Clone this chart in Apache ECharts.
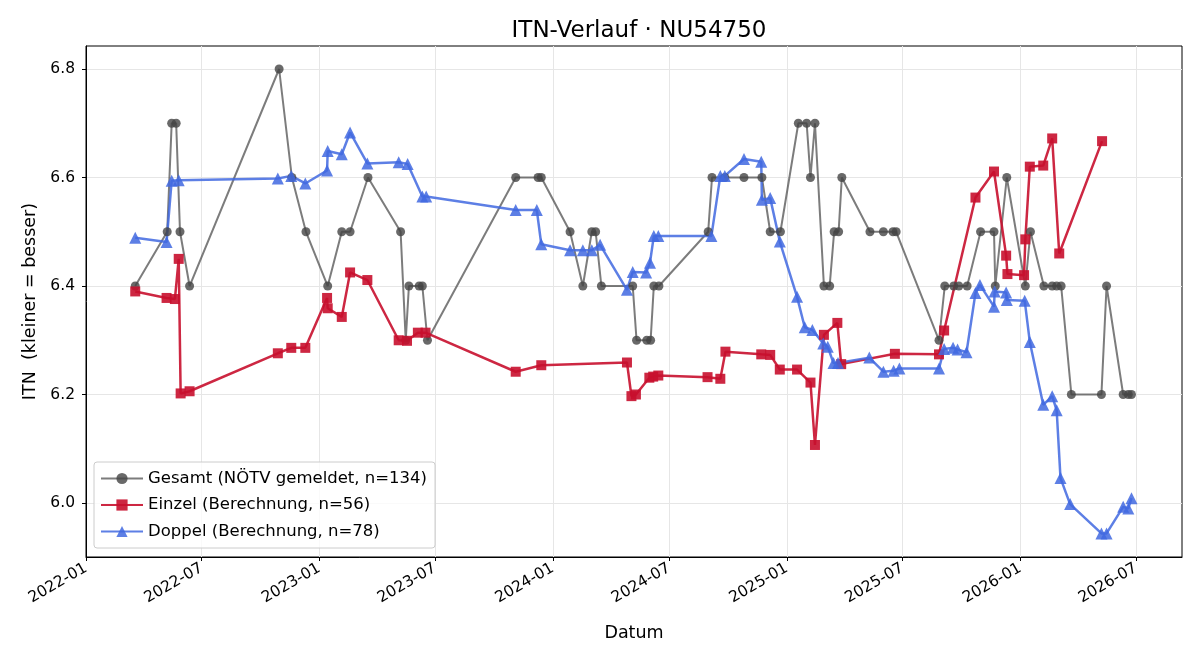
<!DOCTYPE html>
<html>
<head>
<meta charset="utf-8">
<title>ITN-Verlauf</title>
<script src="https://cdn.jsdelivr.net/npm/echarts@6/dist/echarts.min.js"></script>
<style>
  html, body { margin: 0; padding: 0; background: #fff; }
  #itn_chart { width: 1200px; height: 660px; }
</style>
</head>
<body>
<div id="itn_chart"></div>
<script>
// Gesamt (NÖTV gemeldet)
var gesamtDates = ['2022-03-19', '2022-05-08', '2022-05-15', '2022-05-22', '2022-05-28', '2022-06-12',
    '2022-10-30', '2022-11-19', '2022-12-11', '2023-01-14', '2023-02-05', '2023-02-18', '2023-03-18',
    '2023-05-08', '2023-05-16', '2023-05-21', '2023-06-06', '2023-06-11', '2023-06-19', '2023-11-04',
    '2023-12-09', '2023-12-14', '2024-01-28', '2024-02-17', '2024-03-02', '2024-03-08', '2024-03-17',
    '2024-05-05', '2024-05-11', '2024-05-27', '2024-06-02', '2024-06-07', '2024-06-15', '2024-08-31',
    '2024-09-06', '2024-09-26', '2024-10-26', '2024-11-23', '2024-12-06', '2024-12-22', '2025-01-19',
    '2025-02-01', '2025-02-07', '2025-02-14', '2025-02-28', '2025-03-09', '2025-03-16', '2025-03-23',
    '2025-03-28', '2025-05-11', '2025-06-01', '2025-06-16', '2025-06-21', '2025-08-27', '2025-09-05',
    '2025-09-19', '2025-09-27', '2025-10-10', '2025-10-31', '2025-11-21', '2025-11-23', '2025-12-11',
    '2026-01-09', '2026-01-17', '2026-02-07', '2026-02-20', '2026-02-27', '2026-03-06', '2026-03-22',
    '2026-05-08', '2026-05-16', '2026-06-11', '2026-06-19', '2026-06-24'];
var gesamtValues = [6.4, 6.5, 6.7, 6.7, 6.5, 6.4,
    6.8, 6.6, 6.5, 6.4, 6.5, 6.5, 6.6,
    6.5, 6.3, 6.4, 6.4, 6.4, 6.3, 6.6,
    6.6, 6.6, 6.5, 6.4, 6.5, 6.5, 6.4,
    6.4, 6.3, 6.3, 6.3, 6.4, 6.4, 6.5,
    6.6, 6.6, 6.6, 6.6, 6.5, 6.5, 6.7,
    6.7, 6.6, 6.7, 6.4, 6.4, 6.5, 6.5,
    6.6, 6.5, 6.5, 6.5, 6.5, 6.3, 6.4,
    6.4, 6.4, 6.4, 6.5, 6.5, 6.4, 6.6,
    6.4, 6.5, 6.4, 6.4, 6.4, 6.4, 6.2,
    6.2, 6.4, 6.2, 6.2, 6.2];

// Einzel (Berechnung)
var einzelDates = ['2022-03-19', '2022-05-07', '2022-05-20', '2022-05-26', '2022-05-29', '2022-06-12',
    '2022-10-28', '2022-11-18', '2022-12-10', '2023-01-13', '2023-01-14', '2023-02-05', '2023-02-18',
    '2023-03-17', '2023-05-05', '2023-05-18', '2023-06-04', '2023-06-16', '2023-11-04', '2023-12-14',
    '2024-04-26', '2024-05-03', '2024-05-10', '2024-05-31', '2024-06-06', '2024-06-14', '2024-08-30',
    '2024-09-19', '2024-09-27', '2024-11-22', '2024-12-06', '2024-12-21', '2025-01-17', '2025-02-07',
    '2025-02-14', '2025-02-28', '2025-03-21', '2025-03-27', '2025-06-19', '2025-08-27', '2025-09-04',
    '2025-10-23', '2025-11-21', '2025-12-10', '2025-12-12', '2026-01-07', '2026-01-09', '2026-01-16',
    '2026-02-06', '2026-02-20', '2026-03-03', '2026-05-09'];
var einzelValues = [6.390, 6.378, 6.376, 6.450, 6.202, 6.206,
    6.276, 6.286, 6.286, 6.378, 6.359, 6.343, 6.425,
    6.411, 6.300, 6.299, 6.314, 6.314, 6.242, 6.254,
    6.259, 6.197, 6.200, 6.231, 6.233, 6.235, 6.232,
    6.229, 6.279, 6.274, 6.273, 6.246, 6.246, 6.222,
    6.107, 6.310, 6.332, 6.256, 6.275, 6.274, 6.318,
    6.563, 6.611, 6.456, 6.422, 6.420, 6.486, 6.620,
    6.622, 6.672, 6.460, 6.667];

// Doppel (Berechnung)
var doppelDates = ['2022-03-19', '2022-05-07', '2022-05-15', '2022-05-26', '2022-10-28', '2022-11-18',
    '2022-12-10', '2023-01-13', '2023-01-14', '2023-02-05', '2023-02-18', '2023-03-17', '2023-05-05',
    '2023-05-19', '2023-06-11', '2023-06-17', '2023-11-04', '2023-12-07', '2023-12-14', '2024-01-28',
    '2024-02-17', '2024-03-02', '2024-03-15', '2024-04-26', '2024-05-05', '2024-05-26', '2024-06-01',
    '2024-06-07', '2024-06-14', '2024-09-05', '2024-09-19', '2024-09-26', '2024-10-26', '2024-11-22',
    '2024-11-23', '2024-12-06', '2024-12-21', '2025-01-17', '2025-01-29', '2025-02-10', '2025-02-27',
    '2025-03-06', '2025-03-15', '2025-03-22', '2025-05-10', '2025-06-01', '2025-06-17', '2025-06-26',
    '2025-08-27', '2025-09-04', '2025-09-18', '2025-09-25', '2025-10-09', '2025-10-23', '2025-10-30',
    '2025-11-21', '2025-11-22', '2025-12-10', '2025-12-11', '2026-01-08', '2026-01-16', '2026-02-06',
    '2026-02-20', '2026-02-27', '2026-03-05', '2026-03-20', '2026-05-08', '2026-05-16', '2026-06-11',
    '2026-06-19', '2026-06-24'];
var doppelValues = [6.489, 6.481, 6.594, 6.595, 6.598, 6.603,
    6.589, 6.613, 6.649, 6.643, 6.683, 6.626, 6.628,
    6.625, 6.565, 6.565, 6.540, 6.540, 6.477, 6.466,
    6.466, 6.466, 6.476, 6.393, 6.426, 6.425, 6.443,
    6.492, 6.492, 6.492, 6.603, 6.603, 6.634, 6.629,
    6.559, 6.562, 6.482, 6.380, 6.324, 6.319, 6.294,
    6.288, 6.258, 6.258, 6.268, 6.242, 6.244, 6.248,
    6.248, 6.284, 6.286, 6.283, 6.278, 6.387, 6.402,
    6.362, 6.390, 6.388, 6.374, 6.373, 6.297, 6.181,
    6.197, 6.171, 6.046, 5.998, 5.944, 5.944, 5.993,
    5.990, 6.009];

var xTicks = ['2022-01-01', '2022-07-01', '2023-01-01', '2023-07-01', '2024-01-01',
    '2024-07-01', '2025-01-01', '2025-07-01', '2026-01-01', '2026-07-01'];
var yTicks = [6.0, 6.2, 6.4, 6.6, 6.8];

var legendNames = ['Gesamt (NÖTV gemeldet, n=134)', 'Einzel (Berechnung, n=56)', 'Doppel (Berechnung, n=78)'];

function ts(d) {
    return new Date(d + 'T00:00:00Z').getTime();
}

function pairs(dates, values) {
    var out = [];
    for (var i = 0; i < dates.length; i++) {
        out.push([ts(dates[i]), values[i]]);
    }
    return out;
}

var xTickTimes = xTicks.map(ts);

var FONT = 'DejaVu Sans';

var itn_chart = echarts.init(document.getElementById('itn_chart'));

var option = {
    animation: false,
    backgroundColor: '#fff',
    textStyle: { fontFamily: FONT },
    title: {
        text: 'ITN-Verlauf · NU54750',
        left: 634,
        top: 15,
        textAlign: 'center',
        textStyle: { fontFamily: FONT, fontSize: 23, fontWeight: 'normal', color: '#000' }
    },
    grid: {
        left: 86, right: 18, top: 46, bottom: 103,
        show: true, borderColor: '#000', borderWidth: 1,
        containLabel: false
    },
    legend: {
        orient: 'vertical',
        left: 94, top: 462,
        padding: [8, 8, 8, 6],
        itemGap: 9.5,
        itemWidth: 42,
        itemHeight: 14,
        backgroundColor: 'rgba(255,255,255,0.8)',
        borderColor: '#cccccc',
        borderWidth: 1,
        borderRadius: 3,
        textStyle: { fontFamily: FONT, fontSize: 16.5, color: '#000' },
        data: legendNames
    },
    xAxis: {
        type: 'value',
        min: ts('2022-01-01'),
        max: ts('2026-09-11'),
        name: 'Datum',
        nameLocation: 'middle',
        nameGap: 67,
        nameTextStyle: { fontFamily: FONT, fontSize: 17.5, color: '#000' },
        axisLine: { onZero: false, lineStyle: { color: '#000', width: 1 } },
        axisTick: { show: true, length: 4, lineStyle: { color: '#000' }, customValues: xTickTimes },
        axisLabel: {
            customValues: xTickTimes,
            rotate: 30,
            fontFamily: FONT, fontSize: 15.5, color: '#000',
            margin: 10,
            formatter: function (v) {
                var d = new Date(v);
                var m = d.getUTCMonth() + 1;
                return d.getUTCFullYear() + '-' + (m < 10 ? '0' + m : m);
            }
        },
        splitLine: { show: true, lineStyle: { color: '#e6e6e6', width: 1 } }
    },
    yAxis: {
        type: 'value',
        min: 5.9005,
        max: 6.8424,
        name: 'ITN  (kleiner = besser)',
        nameLocation: 'middle',
        nameGap: 47,
        nameTextStyle: { fontFamily: FONT, fontSize: 17.5, color: '#000' },
        axisLine: { show: true, onZero: false, lineStyle: { color: '#000', width: 1 } },
        axisTick: { show: true, length: 4, lineStyle: { color: '#000' }, customValues: yTicks },
        axisLabel: {
            customValues: yTicks,
            fontFamily: FONT, fontSize: 15.5, color: '#000', margin: 11,
            formatter: function (v) { return v.toFixed(1); }
        },
        splitLine: { show: true, lineStyle: { color: '#e6e6e6', width: 1 } }
    },
    series: [{
        name: legendNames[0],
        type: 'line',
        symbol: 'circle',
        symbolSize: 9,
        lineStyle: { color: '#444', width: 2, opacity: 0.7 },
        itemStyle: { color: '#444', opacity: 0.8 },
        data: pairs(gesamtDates, gesamtValues)
    }, {
        name: legendNames[1],
        type: 'line',
        symbol: 'rect',
        symbolSize: 10,
        lineStyle: { color: '#C8102E', width: 2.5, opacity: 0.9 },
        itemStyle: { color: '#C8102E', opacity: 0.9 },
        data: pairs(einzelDates, einzelValues)
    }, {
        name: legendNames[2],
        type: 'line',
        symbol: 'triangle',
        symbolSize: 12,
        lineStyle: { color: '#4169E1', width: 2.5, opacity: 0.85 },
        itemStyle: { color: '#4169E1', opacity: 0.85 },
        data: pairs(doppelDates, doppelValues)
    }]
};

itn_chart.setOption(option);
</script>
</body>
</html>
